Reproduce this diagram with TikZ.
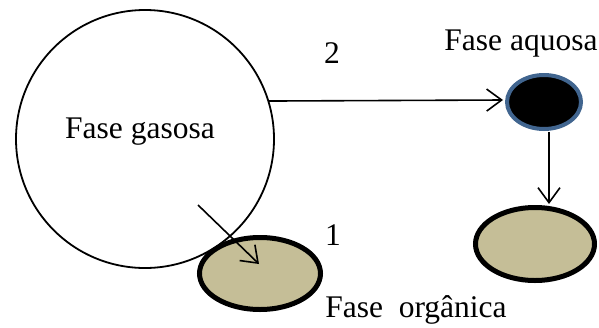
\documentclass[tikz,border=0pt]{standalone}
\usepackage{fontspec}
\setmainfont{Liberation Serif}
\usetikzlibrary{arrows.meta,shapes.geometric}
\begin{document}
\begin{tikzpicture}[x=1pt,y=1pt,
  lbl/.style={inner sep=0pt,anchor=base,font=\fontsize{31.5}{36}\selectfont},
  arr/.style={line width=1.6pt,-{Straight Barb[length=15pt,width=22pt,line width=1.6pt]}},
  tan/.style={ellipse,draw=black,line width=5pt,fill=tanfill,inner sep=0pt}]
\definecolor{tanfill}{HTML}{C5BE97}
\definecolor{ringblue}{HTML}{41658F}
\useasboundingbox (0,0) rectangle (599,-327);
\node[circle,draw,line width=1.8pt,minimum size=258pt,inner sep=0pt] (gas) at (145,-139) {};
\node[ellipse,draw=ringblue,fill=black,line width=4pt,minimum width=74pt,minimum height=54pt,inner sep=0pt] (aq) at (544,-102) {};
\node[tan,minimum width=119pt,minimum height=73pt] (br) at (535,-244) {};
\node[tan,minimum width=121pt,minimum height=72pt] (org) at (260,-273.5) {};
\node[lbl] (tgas) at (140,-138) {Fase gasosa};
\node[lbl] (taq) at (521,-50) {Fase aquosa};
\node[lbl] (torg) at (416,-317) {Fase\ \ orgânica};
\node[lbl] (t1) at (333,-245) {1};
\node[lbl] (t2) at (332,-63) {2};
\coordinate (a2s) at (gas.17.6);
\coordinate (a2e) at (503,-100);
\draw[arr] (a2s) -- (a2e);
\coordinate (a3s) at (549,-132);
\coordinate (a3e) at (549,-204);
\draw[arr] (a3s) -- (a3e);
\coordinate (a1s) at (198,-205);
\coordinate (a1e) at (259,-264);
\draw[arr] (a1s) -- (a1e);
\end{tikzpicture}
\end{document}
